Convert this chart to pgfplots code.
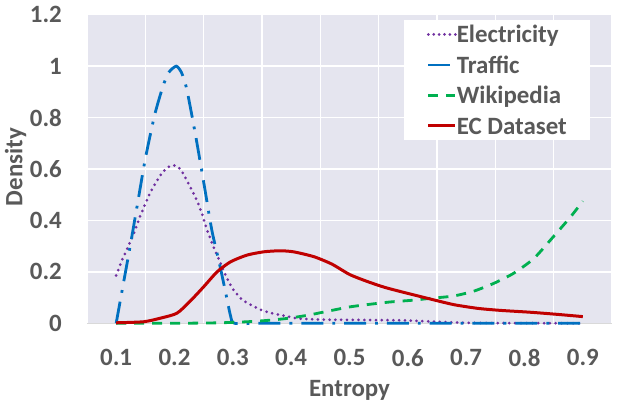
\documentclass[border=0pt]{standalone}
\usepackage{fontspec}
\setmainfont{Carlito}
\usepackage{pgfplots}
\pgfplotsset{compat=1.18}
\definecolor{bg}{HTML}{E5E5EF}
\definecolor{txt}{HTML}{595959}
\definecolor{cElec}{HTML}{7030A0}
\definecolor{cTraf}{HTML}{0070C0}
\definecolor{cWiki}{HTML}{00B050}
\definecolor{cEC}{HTML}{C00000}
\begin{document}
\begin{tikzpicture}
\begin{axis}[
  scale only axis, width=525bp, height=308.6bp,
  at={(0,0)}, anchor=south west,
  xmin=0.05, xmax=0.95, ymin=0, ymax=1.2,
  clip=false,
  axis background/.style={fill=bg},
  axis line style={draw=none},
  xtick={0.1,0.2,0.3,0.4,0.5,0.6,0.7,0.8,0.9},
  xticklabels={0.1,0.2,0.3,0.4,0.5,0.6,0.7,0.8,0.9},
  minor xtick={0.05,0.15,0.25,0.35,0.45,0.55,0.65,0.75,0.85,0.95},
  ytick={0,0.2,0.4,0.6,0.8,1,1.2},
  yticklabels={0,0.2,0.4,0.6,0.8,1,1.2},
  xmajorgrids=false, xminorgrids=true, ymajorgrids=true,
  grid style={draw=white, line width=1.3bp},
  minor grid style={draw=white, line width=1.3bp},
  major tick length=0pt, minor tick length=0pt,
  tick style={draw=none},
  extra y ticks={0}, extra y tick labels={},
  extra y tick style={grid style={draw=black!15, line width=1.3bp}},
  tick label style={font=\fontsize{25}{30}\selectfont\bfseries, text=txt},
  xticklabel style={anchor=north, inner sep=0pt, yshift=-25.5bp},
  yticklabel style={anchor=east, inner sep=0pt, xshift=-25bp},
  xlabel={Entropy}, ylabel={Density},
  every axis x label/.style={at={(axis description cs:0.5,0)}, anchor=base, yshift=-73.4bp, font=\fontsize{25}{30}\selectfont\bfseries, text=txt},
  every axis y label/.style={at={(axis description cs:0,0.5065)}, anchor=base, rotate=90, yshift=64.5bp, font=\fontsize{25}{30}\selectfont\bfseries, text=txt},
  legend style={at={(axis description cs:0.9581,0.9828)}, anchor=north east,
    draw=none, fill=white, inner xsep=23bp, inner ysep=5bp,
    font=\fontsize{25}{30}\selectfont\bfseries, text=txt,
    row sep=12bp, column sep=0bp,
    nodes={inner sep=0pt, text height=17.5bp, text depth=1bp}},
  legend cell align=left,
]
\addplot[cElec, line width=3bp, line cap=round, dash pattern=on 0bp off 5.8bp, smooth, tension=0.4,
  legend image code/.code={\draw[cElec, line width=3bp, line cap=round, dash pattern=on 0bp off 5.4bp] (0bp,0bp) -- (27bp,0bp);}]
coordinates {
(0.100,0.186)(0.110,0.245)(0.120,0.295)(0.130,0.348)(0.140,0.410)(0.150,0.465)(0.160,0.515)
(0.170,0.555)(0.180,0.588)(0.190,0.608)(0.198,0.615)(0.206,0.608)(0.213,0.589)(0.224,0.543)
(0.236,0.490)(0.247,0.427)(0.256,0.362)(0.267,0.297)(0.279,0.233)(0.290,0.175)(0.301,0.130)
(0.310,0.106)(0.317,0.090)(0.326,0.078)(0.335,0.067)(0.344,0.057)(0.353,0.048)(0.364,0.041)
(0.373,0.036)(0.384,0.031)(0.393,0.027)(0.403,0.022)(0.413,0.018)(0.430,0.016)(0.460,0.014)
(0.520,0.013)(0.580,0.012)(0.620,0.009)(0.660,0.005)(0.700,0.002)(0.750,0.001)(0.900,0.000)
};
\addlegendentry{Electricity}
\addplot[cTraf, line width=2.8bp, dash pattern=on 22bp off 9bp on 2.8bp off 9bp, smooth, tension=0.4,
  legend image code/.code={\draw[cTraf, line width=2.8bp] (0bp,0bp) -- (27bp,0bp);}]
coordinates {
(0.100,0.000)(0.110,0.125)(0.124,0.300)(0.137,0.470)(0.150,0.640)(0.166,0.810)(0.180,0.920)
(0.190,0.975)(0.203,1.000)(0.212,0.975)(0.220,0.920)(0.228,0.830)(0.238,0.707)(0.251,0.536)
(0.264,0.362)(0.277,0.233)(0.288,0.116)(0.296,0.030)(0.303,0.000)(0.350,0.000)(0.450,0.000)
(0.550,0.000)(0.650,0.000)(0.750,0.000)(0.900,0.000)
};
\addlegendentry{Traffic}
\addplot[cWiki, line width=2.8bp, dash pattern=on 10bp off 8bp, smooth, tension=0.4,
  legend image code/.code={\draw[cWiki, line width=2.8bp, dash pattern=on 10bp off 8bp] (0bp,0bp) -- (27bp,0bp);}]
coordinates {
(0.100,0.000)(0.200,0.000)(0.278,0.002)(0.324,0.006)(0.358,0.011)(0.393,0.019)(0.430,0.032)
(0.467,0.049)(0.501,0.064)(0.535,0.074)(0.570,0.083)(0.610,0.090)(0.638,0.097)(0.678,0.106)
(0.713,0.125)(0.747,0.155)(0.781,0.194)(0.816,0.252)(0.850,0.338)(0.879,0.414)(0.900,0.475)
};
\addlegendentry{Wikipedia}
\addplot[cEC, line width=3bp, smooth, tension=0.4,
  legend image code/.code={\draw[cEC, line width=3bp] (0bp,0bp) -- (27bp,0bp);}]
coordinates {
(0.100,0.002)(0.147,0.006)(0.176,0.020)(0.204,0.039)(0.226,0.084)(0.250,0.142)(0.273,0.200)
(0.296,0.239)(0.324,0.265)(0.353,0.278)(0.381,0.282)(0.404,0.278)(0.439,0.259)(0.470,0.230)
(0.500,0.190)(0.530,0.163)(0.560,0.140)(0.590,0.122)(0.620,0.105)(0.650,0.088)(0.680,0.072)
(0.720,0.058)(0.760,0.050)(0.810,0.043)(0.855,0.035)(0.900,0.026)
};
\addlegendentry{EC Dataset}
\end{axis}
\pgfresetboundingbox
\useasboundingbox (-87bp,-81.7bp) rectangle (531bp,323.3bp);
\end{tikzpicture}
\end{document}
